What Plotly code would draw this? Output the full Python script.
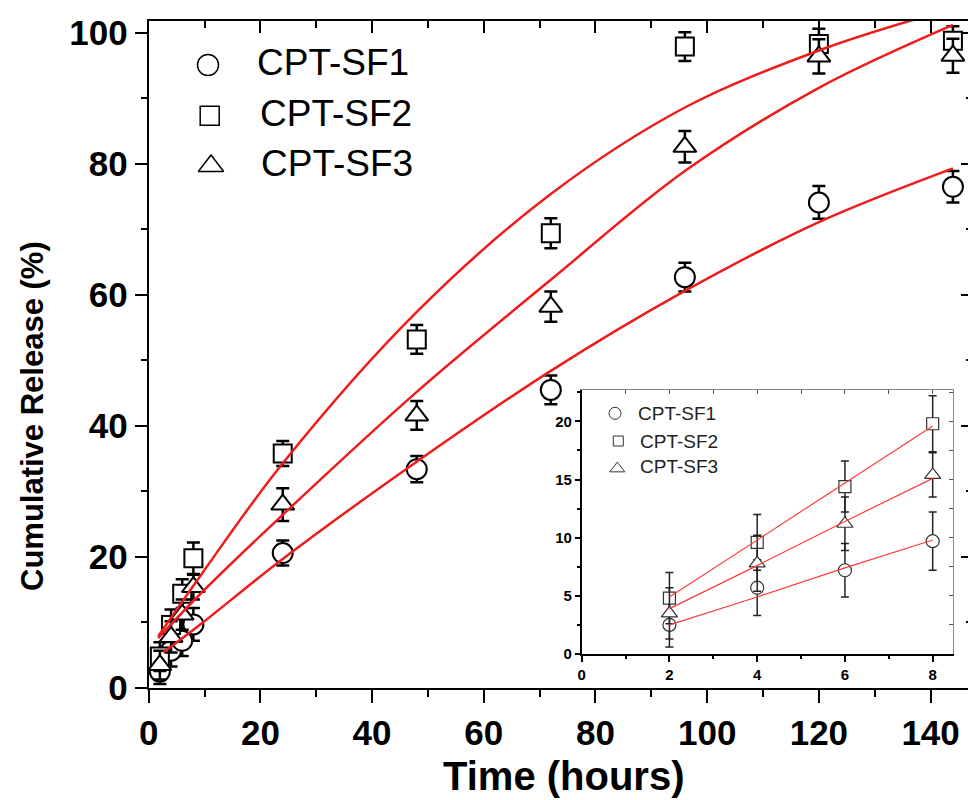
import plotly.graph_objects as go

W, H = 968, 800

# ---------------- data ----------------
series_names = ["CPT-SF1", "CPT-SF2", "CPT-SF3"]
time_h = [2, 4, 6, 8, 24, 48, 72, 96, 120, 144]

sf1 = [2.5, 5.7, 7.2, 9.7, 20.6, 33.4, 45.5, 62.7, 74.1, 76.5]
sf1_err = [1.9, 2.4, 2.3, 2.5, 1.9, 2.0, 2.2, 2.2, 2.5, 2.4]
sf2 = [4.8, 9.6, 14.4, 19.8, 35.8, 53.2, 69.4, 97.9, 98.3, 98.8]
sf2_err = [2.2, 2.4, 2.2, 2.4, 1.9, 2.2, 2.3, 2.2, 2.3, 2.2]
sf3 = [3.5, 7.8, 11.2, 15.4, 28.0, 41.6, 58.2, 82.6, 96.4, 96.5]
sf3_err = [2.2, 2.4, 2.3, 1.9, 2.5, 2.2, 2.3, 2.4, 2.6, 2.6]

# fitted curves
fit1_t = [2.6, 9.4, 23.7, 47.6, 72, 96, 120, 144]
fit1_y = [5.4, 9.8, 19.5, 34.3, 48.4, 60.6, 71.1, 79.3]
fit2_t = [1.7, 9.4, 24, 48, 72, 96, 120, 137]
fit2_y = [7.9, 17.3, 34.3, 57.4, 75.4, 88.6, 97.3, 102]
fit3_t = [1.7, 9.4, 23.7, 48, 72, 96, 120, 144]
fit3_y = [7.6, 14.5, 26.2, 45.2, 62.3, 78.9, 91.6, 101.2]

# inset (first 8 hours)
n_inset = 4
inset_fit_t = [2, 4, 6, 8]
inset_fit1 = [2.5, 4.9, 7.4, 9.8]
inset_fit2 = [4.9, 9.8, 14.7, 19.6]
inset_fit3 = [3.9, 7.6, 11.4, 15.1]

x_ticks = [0, 20, 40, 60, 80, 100, 120, 140]
y_ticks = [0, 20, 40, 60, 80, 100]
inset_x_ticks = [0, 2, 4, 6, 8]
inset_y_ticks = [0, 5, 10, 15, 20]

# ---------------- layout geometry (pixels) ----------------
MAIN_L, MAIN_R, MAIN_T, MAIN_B = 148.7, 968.0, 21.0, 688.0
INS_L, INS_R, INS_T, INS_B = 581.7, 953.3, 390.0, 654.0
MAIN_XR = [0, 146.7]
MAIN_YR = [0, 101.8]
INS_XR = [0, 8.47]
INS_YR = [0, 22.7]

def dx(p):
    return p / W

def dy(p):
    return 1 - p / H

FONT = "Liberation Sans, Arial, sans-serif"
RED = "#ee1c1c"
symbols = ["circle", "square", "triangle-up"]
main_sizes = [20, 18, 20]
ins_sizes = [13, 12, 14]

fig = go.Figure()

values = [sf1, sf2, sf3]
errors = [sf1_err, sf2_err, sf3_err]
fits = [(fit1_t, fit1_y), (fit2_t, fit2_y), (fit3_t, fit3_y)]
ins_fits = [inset_fit1, inset_fit2, inset_fit3]

# main markers with error bars
for i in range(3):
    fig.add_trace(go.Scatter(
        x=time_h, y=values[i], mode="markers", name=series_names[i],
        marker=dict(symbol=symbols[i], size=main_sizes[i], color="white",
                    line=dict(color="black", width=2)),
        error_y=dict(type="data", array=errors[i], color="black",
                     thickness=2.5, width=6.5),
        xaxis="x", yaxis="y", showlegend=False, cliponaxis=False))
# main fitted curves
for i in range(3):
    fig.add_trace(go.Scatter(
        x=fits[i][0], y=fits[i][1], mode="lines",
        line=dict(color=RED, width=2.5, shape="spline", smoothing=1.0),
        xaxis="x", yaxis="y", showlegend=False))

# inset markers
for i in range(3):
    fig.add_trace(go.Scatter(
        x=time_h[:n_inset], y=values[i][:n_inset], mode="markers",
        marker=dict(symbol=symbols[i], size=ins_sizes[i], color="white",
                    line=dict(color="#333333", width=1.2)),
        error_y=dict(type="data", array=errors[i][:n_inset], color="#222222",
                     thickness=1.5, width=4),
        xaxis="x2", yaxis="y2", showlegend=False, cliponaxis=False))
for i in range(3):
    fig.add_trace(go.Scatter(
        x=inset_fit_t, y=ins_fits[i], mode="lines",
        line=dict(color="#ff3b3b", width=1.2),
        xaxis="x2", yaxis="y2", showlegend=False))

# dummy traces so mirror axes render
for xa, ya in [("x3", "y"), ("x", "y3"), ("x5", "y2"), ("x2", "y5")]:
    fig.add_trace(go.Scatter(x=[None], y=[None], xaxis=xa, yaxis=ya,
                             showlegend=False, hoverinfo="skip"))

# custom legends on a pixel-space overlay axis
main_leg = [(208, 65, 21), (209.7, 115.7, 19), (211, 166, 22)]
ins_leg = [(615, 413.3, 12), (618.3, 441, 10), (617.3, 468.6, 13)]
for i in range(3):
    fig.add_trace(go.Scatter(
        x=[main_leg[i][0]], y=[main_leg[i][1]], mode="markers",
        marker=dict(symbol=symbols[i], size=main_leg[i][2], color="white",
                    line=dict(color="black", width=1.5)),
        xaxis="x6", yaxis="y6", showlegend=False, cliponaxis=False, hoverinfo="skip"))
    fig.add_trace(go.Scatter(
        x=[ins_leg[i][0]], y=[ins_leg[i][1]], mode="markers",
        marker=dict(symbol=symbols[i], size=ins_leg[i][2], color="white",
                    line=dict(color="#333333", width=1)),
        xaxis="x6", yaxis="y6", showlegend=False, cliponaxis=False, hoverinfo="skip"))

main_text_pos = [(255, 62), (257.5, 113.7), (258.5, 163.7)]
ins_text_pos = [(635.5, 413), (637.5, 441), (637.5, 466)]
annotations = []
for i in range(3):
    annotations.append(dict(
        text=series_names[i], xref="paper", yref="paper",
        x=dx(main_text_pos[i][0]), y=dy(main_text_pos[i][1]),
        xanchor="left", yanchor="middle", showarrow=False,
        font=dict(family=FONT, size=37, color="black")))
    annotations.append(dict(
        text=series_names[i], xref="paper", yref="paper",
        x=dx(ins_text_pos[i][0]), y=dy(ins_text_pos[i][1]),
        xanchor="left", yanchor="middle", showarrow=False,
        font=dict(family=FONT, size=19, color="#222222")))

# axis titles
annotations.append(dict(
    text="Time (hours)", xref="paper", yref="paper",
    x=dx(564), y=dy(776), xanchor="center", yanchor="middle", showarrow=False,
    font=dict(family=FONT, size=40, color="black", weight="bold")))
annotations.append(dict(
    text="Cumulative Release (%)", xref="paper", yref="paper",
    x=dx(32), y=dy(416), xanchor="center", yanchor="middle", showarrow=False,
    textangle=-90,
    font=dict(family=FONT, size=31, color="black", weight="bold")))

main_dom_x = [dx(MAIN_L), dx(MAIN_R)]
main_dom_y = [dy(MAIN_B), dy(MAIN_T)]
ins_dom_x = [dx(INS_L), dx(INS_R)]
ins_dom_y = [dy(INS_B), dy(INS_T)]

tick_font = dict(family=FONT, size=35, color="black", weight="bold")
ins_tick_font = dict(family=FONT, size=15, color="black", weight="bold")

fig.update_layout(
    width=W, height=H,
    margin=dict(l=0, r=0, t=0, b=0),
    paper_bgcolor="white", plot_bgcolor="rgba(0,0,0,0)",
    showlegend=False,
    annotations=annotations,
    xaxis=dict(domain=main_dom_x, range=MAIN_XR, anchor="y",
               tickmode="array", tickvals=x_ticks, ticktext=[str(v) for v in x_ticks],
               ticks="outside", ticklen=13, tickwidth=2, tickcolor="black",
               showline=True, linewidth=2, linecolor="black",
               showgrid=False, zeroline=False, tickfont=tick_font,
               minor=dict(ticks="outside", ticklen=7, tickwidth=2, tickcolor="black",
                          tick0=0, dtick=10, showgrid=False),
               automargin=False),
    yaxis=dict(domain=main_dom_y, range=MAIN_YR, anchor="x",
               tickmode="array", tickvals=y_ticks, ticktext=[str(v) for v in y_ticks],
               ticks="outside", ticklen=12, tickwidth=2, tickcolor="black",
               showline=True, linewidth=2, linecolor="black",
               showgrid=False, zeroline=False, tickfont=tick_font,
               minor=dict(ticks="outside", ticklen=6, tickwidth=2, tickcolor="black",
                          tick0=0, dtick=10, showgrid=False),
               automargin=False),
    xaxis3=dict(domain=main_dom_x, range=MAIN_XR, overlaying="x", side="top", anchor="y",
                tickmode="linear", tick0=0, dtick=20, showticklabels=False,
                ticks="inside", ticklen=12, tickwidth=2, tickcolor="black",
                showline=True, linewidth=2, linecolor="black",
                showgrid=False, zeroline=False,
                minor=dict(ticks="inside", ticklen=7, tickwidth=2, tickcolor="black",
                           tick0=0, dtick=10, showgrid=False),
                automargin=False),
    yaxis3=dict(domain=main_dom_y, range=MAIN_YR, overlaying="y", side="right", anchor="x",
                tickmode="linear", tick0=0, dtick=20, showticklabels=False,
                ticks="inside", ticklen=7, tickwidth=2, tickcolor="black",
                showline=False, showgrid=False, zeroline=False,
                minor=dict(ticks="inside", ticklen=2, tickwidth=2, tickcolor="black",
                           tick0=0, dtick=10, showgrid=False),
                automargin=False),
    xaxis2=dict(domain=ins_dom_x, range=INS_XR, anchor="y2",
                tickmode="array", tickvals=inset_x_ticks, ticktext=[str(v) for v in inset_x_ticks],
                ticks="outside", ticklen=6, tickwidth=1.5, tickcolor="black",
                showline=True, linewidth=1.5, linecolor="black",
                showgrid=False, zeroline=False, tickfont=ins_tick_font,
                minor=dict(ticks="outside", ticklen=3, tickwidth=1.5, tickcolor="black",
                           tick0=0, dtick=1, showgrid=False),
                automargin=False),
    yaxis2=dict(domain=ins_dom_y, range=INS_YR, anchor="x2",
                tickmode="array", tickvals=inset_y_ticks, ticktext=[str(v) for v in inset_y_ticks],
                ticks="outside", ticklen=5, tickwidth=1.5, tickcolor="black",
                showline=True, linewidth=1.5, linecolor="black",
                showgrid=False, zeroline=False, tickfont=ins_tick_font,
                minor=dict(ticks="outside", ticklen=3, tickwidth=1.5, tickcolor="black",
                           tick0=0, dtick=2.5, showgrid=False),
                automargin=False),
    xaxis5=dict(domain=ins_dom_x, range=INS_XR, overlaying="x2", side="top", anchor="y2",
                tickmode="linear", tick0=0, dtick=1, showticklabels=False,
                ticks="inside", ticklen=4, tickwidth=1, tickcolor="#555555",
                showline=True, linewidth=1, linecolor="#888888",
                showgrid=False, zeroline=False, automargin=False),
    yaxis5=dict(domain=ins_dom_y, range=INS_YR, overlaying="y2", side="right", anchor="x2",
                tickmode="linear", tick0=0, dtick=2.5, showticklabels=False,
                ticks="inside", ticklen=4, tickwidth=1, tickcolor="#555555",
                showline=True, linewidth=1, linecolor="#888888",
                showgrid=False, zeroline=False, automargin=False),
    xaxis6=dict(domain=[0, 1], range=[0, W], anchor="y6", visible=False,
                fixedrange=True, automargin=False),
    yaxis6=dict(domain=[0, 1], range=[H, 0], anchor="x6", visible=False,
                fixedrange=True, automargin=False),
)

fig.write_html("out.html", config={"displayModeBar": False},
               post_script="document.body.style.margin='0px';")
